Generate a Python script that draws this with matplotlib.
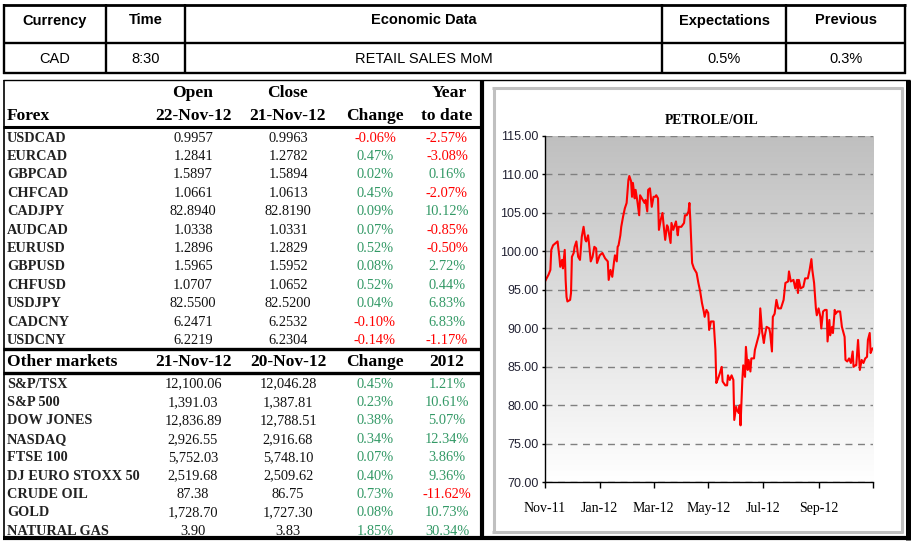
import datetime as dt
import numpy as np
import matplotlib
matplotlib.use("Agg")
import matplotlib.pyplot as plt
import matplotlib.dates as mdates
from matplotlib import font_manager as fm
from matplotlib.colors import LinearSegmentedColormap

# ---- data ----
top_headers = ["Currency", "Time", "Economic Data", "Expectations", "Previous"]
top_values = ["CAD", "8:30", "RETAIL SALES MoM", "0.5%", "0.3%"]

forex_names = ["USDCAD", "EURCAD", "GBPCAD", "CHFCAD", "CADJPY", "AUDCAD",
               "EURUSD", "GBPUSD", "CHFUSD", "USDJPY", "CADCNY", "USDCNY"]
forex_open = ["0.9957", "1.2841", "1.5897", "1.0661", "82.8940", "1.0338",
              "1.2896", "1.5965", "1.0707", "82.5500", "6.2471", "6.2219"]
forex_close = ["0.9963", "1.2782", "1.5894", "1.0613", "82.8190", "1.0331",
               "1.2829", "1.5952", "1.0652", "82.5200", "6.2532", "6.2304"]
forex_change = ["-0.06%", "0.47%", "0.02%", "0.45%", "0.09%", "0.07%",
                "0.52%", "0.08%", "0.52%", "0.04%", "-0.10%", "-0.14%"]
forex_ytd = ["-2.57%", "-3.08%", "0.16%", "-2.07%", "10.12%", "-0.85%",
             "-0.50%", "2.72%", "0.44%", "6.83%", "6.83%", "-1.17%"]

mkt_names = ["S&P/TSX", "S&P 500", "DOW JONES", "NASDAQ", "FTSE 100",
             "DJ EURO STOXX 50", "CRUDE OIL", "GOLD", "NATURAL GAS"]
mkt_last = ["12,100.06", "1,391.03", "12,836.89", "2,926.55", "5,752.03",
            "2,519.68", "87.38", "1,728.70", "3.90"]
mkt_prev = ["12,046.28", "1,387.81", "12,788.51", "2,916.68", "5,748.10",
            "2,509.62", "86.75", "1,727.30", "3.83"]
mkt_change = ["0.45%", "0.23%", "0.38%", "0.34%", "0.07%", "0.40%",
              "0.73%", "0.08%", "1.85%"]
mkt_ytd = ["1.21%", "10.61%", "5.07%", "12.34%", "3.86%", "9.36%",
           "-11.62%", "10.73%", "30.34%"]

# crude oil, days counted from 21-Nov-2011
oil_start = dt.datetime(2011, 11, 21)
oil_days = [0, 4, 6, 7, 9, 12, 14, 16, 17, 19, 20, 22, 23, 24, 25, 28, 29, 30,
            32, 33, 35, 37, 39, 41, 43, 45, 46, 48, 49, 51, 53, 55, 57, 58, 61,
            64, 67, 70, 71, 73, 75, 77, 78, 80, 81, 82, 84, 85, 87, 89, 91, 93,
            94, 96, 97, 98, 100, 101, 103, 105, 106, 109, 111, 112, 114, 115,
            117, 119, 121, 123, 124, 126, 127, 129, 131, 132, 134, 136, 137,
            140, 141, 143, 146, 148, 149, 152, 155, 156, 158, 160, 161, 162,
            164, 166, 169, 171, 173, 175, 177, 178, 180, 182, 183, 185, 188,
            190, 191, 193, 195, 197, 198, 201, 203, 204, 206, 208, 210, 211,
            213, 214, 216, 217, 218, 220, 221, 223, 224, 226, 227, 229, 230,
            233, 234, 237, 239, 240, 242, 244, 245, 247, 250, 251, 253, 254,
            256, 258, 260, 263, 266, 268, 271, 272, 274, 277, 279, 281, 282,
            283, 285, 288, 290, 293, 295, 297, 298, 300, 302, 303, 305, 307,
            308, 310, 312, 314, 315, 317, 318, 320, 321, 323, 324, 326, 329,
            331, 334, 335, 337, 339, 341, 343, 344, 346, 347, 349, 351, 353,
            355, 357, 359, 360, 362, 363, 365, 366]
oil_price = [96.1, 97.0, 97.6, 100.2, 100.8, 101.1, 101.3, 99.3, 98.0, 98.9,
             97.8, 100.2, 96.3, 94.1, 93.5, 93.7, 94.6, 99.3, 99.8, 100.6,
             101.3, 99.3, 98.9, 101.9, 103.2, 101.5, 101.3, 102.1, 101.1, 98.7,
             99.3, 100.6, 100.4, 98.5, 99.5, 99.8, 99.1, 98.7, 96.3, 97.6,
             96.7, 98.7, 99.5, 98.7, 100.6, 100.8, 102.1, 103.2, 104.5, 105.6,
             106.3, 109.3, 109.8, 109.1, 107.1, 108.9, 106.9, 108.0, 106.5,
             104.7, 107.3, 106.7, 106.3, 106.7, 105.2, 108.0, 108.2, 105.8,
             107.1, 107.1, 107.3, 106.9, 102.8, 104.1, 105.0, 103.7, 101.5,
             103.4, 103.2, 101.1, 103.7, 102.8, 103.9, 102.1, 103.2, 103.2,
             103.7, 104.7, 104.7, 105.2, 106.3, 104.1, 98.5, 97.8, 97.2, 95.9,
             94.8, 93.3, 92.2, 91.5, 92.4, 92.0, 89.8, 90.9, 90.9, 87.2, 82.9,
             83.5, 84.2, 85.0, 83.1, 82.6, 82.6, 83.9, 83.3, 83.9, 83.3, 78.1,
             79.8, 79.4, 79.0, 80.0, 77.4, 83.3, 85.2, 83.7, 87.6, 84.6, 85.9,
             84.4, 86.1, 86.1, 87.2, 88.5, 89.4, 92.6, 89.6, 88.1, 89.0, 90.2,
             90.0, 89.4, 87.0, 91.5, 91.9, 93.7, 92.6, 92.6, 93.7, 95.9, 96.1,
             97.4, 96.1, 96.3, 95.2, 96.3, 94.6, 96.3, 95.2, 95.4, 96.5, 96.5,
             97.6, 99.0, 97.6, 95.9, 92.6, 91.7, 92.6, 91.5, 90.0, 92.2, 92.4,
             92.4, 88.3, 91.1, 89.1, 90.2, 89.4, 92.4, 91.9, 92.2, 92.2, 90.2,
             88.9, 85.9, 85.7, 86.1, 85.5, 87.0, 85.0, 85.2, 85.2, 88.5, 84.6,
             85.9, 85.5, 86.1, 86.3, 88.5, 89.4, 86.8, 87.4, 87.4]
y_ticks = [70, 75, 80, 85, 90, 95, 100, 105, 110, 115]
x_tick_labels = ["Nov-11", "Jan-12", "Mar-12", "May-12", "Jul-12", "Sep-12", ""]

# ---- fonts / colours ----
installed = {f.name for f in fm.fontManager.ttflist}
SANS = "Liberation Sans"
NARROW = "Liberation Sans Narrow" if "Liberation Sans Narrow" in installed else None
SERIF = "Liberation Serif"
GREEN = "#339966"
RED = "#ff0000"


def pct_color(s):
    return RED if s.startswith("-") else GREEN


fig = plt.figure(figsize=(9.17, 5.46), dpi=100)
bg = fig.add_axes([0, 0, 1, 1])
bg.set_xlim(0, 917)
bg.set_ylim(546, 0)
bg.axis("off")


def hline(y, x0, x1, lw, color="black"):
    bg.plot([x0, x1], [y, y], color=color, lw=lw, solid_capstyle="butt", zorder=3)


def vline(x, y0, y1, lw, color="black"):
    bg.plot([x, x], [y0, y1], color=color, lw=lw, solid_capstyle="butt", zorder=3)


# ---- top table ----
edges = [4, 106, 185, 662, 786, 905]
hline(5, 3, 906, 2.0)
hline(42.7, 3, 906, 1.7)
hline(72.8, 3, 906, 1.7)
for x in edges:
    vline(x, 4, 74, 1.7)
for i in range(5):
    cx = (edges[i] + edges[i + 1]) / 2
    bg.text(cx, 20.5, top_headers[i], ha="center", va="center",
            family=SANS, fontweight="bold", fontsize=10.5)
    bg.text(cx, 59, top_values[i], ha="center", va="center",
            family=SANS, fontsize=10.5)

# ---- left table ----
col_x = [193, 288, 375, 447]
hline(80, 3, 910, 1.0)
vline(4, 80, 540, 1.2)
hline(127.2, 3, 482, 2.2)
hline(349, 3, 482, 2.4)
hline(373, 3, 482, 2.4)
hline(538, 3, 910, 3.0)
vline(482, 80, 540, 3.0)
vline(907.5, 80, 540, 3.6)

hdr = dict(family=SERIF, fontweight="bold", fontsize=12.6, va="center")
bg.text(7, 115.5, "Forex", ha="left", **hdr)
bg.text(col_x[0], 93, "Open", ha="center", **hdr)
bg.text(col_x[1], 93, "Close", ha="center", **hdr)
bg.text(449, 93, "Year", ha="center", **hdr)
bg.text(col_x[0], 115.5, "22-Nov-12", ha="center", **hdr)
bg.text(col_x[1], 115.5, "21-Nov-12", ha="center", **hdr)
bg.text(col_x[2], 115.5, "Change", ha="center", **hdr)
bg.text(col_x[3], 115.5, "to date", ha="center", **hdr)

bg.text(7, 362, "Other markets", ha="left", **hdr)
bg.text(col_x[0], 362, "21-Nov-12", ha="center", **hdr)
bg.text(col_x[1], 362, "20-Nov-12", ha="center", **hdr)
bg.text(col_x[2], 362, "Change", ha="center", **hdr)
bg.text(col_x[3], 362, "2012", ha="center", **hdr)


def draw_rows(y0, names, a, b, chg, ytd):
    for i, name in enumerate(names):
        y = y0 + i * 18.4
        bg.text(7, y, name, ha="left", va="center", family=SERIF,
                fontweight="bold", fontsize=10.3, color="#222222")
        bg.text(col_x[0], y, a[i], ha="center", va="center", family=SERIF,
                fontsize=10.4, color="#111111")
        bg.text(col_x[1], y, b[i], ha="center", va="center", family=SERIF,
                fontsize=10.4, color="#111111")
        bg.text(col_x[2], y, chg[i], ha="center", va="center", family=SERIF,
                fontsize=10.4, color=pct_color(chg[i]))
        bg.text(col_x[3], y, ytd[i], ha="center", va="center", family=SERIF,
                fontsize=10.4, color=pct_color(ytd[i]))


draw_rows(138, forex_names, forex_open, forex_close, forex_change, forex_ytd)
draw_rows(384, mkt_names, mkt_last, mkt_prev, mkt_change, mkt_ytd)

# ---- chart frame ----
gray = "#c0c0c0"
hline(87.5, 492, 903, 2.2, gray)
hline(531.5, 492, 903, 2.2, gray)
vline(493.5, 86.5, 532.5, 2.2, gray)
vline(901.5, 86.5, 532.5, 2.2, gray)
bg.text(712, 120, "PETROLE/OIL", ha="center", va="center", family=SERIF,
        fontweight="bold", fontsize=9.8)

# ---- oil chart ----
ax = fig.add_axes([545 / 917, (546 - 482.3) / 546, 328.3 / 917, 346.3 / 546])
dates = [oil_start + dt.timedelta(days=d) for d in oil_days]
x0 = mdates.date2num(oil_start)
x1 = mdates.date2num(oil_start + dt.timedelta(days=366))
grad = LinearSegmentedColormap.from_list("g", ["#bfbfbf", "#ffffff"])
ax.imshow(np.linspace(0, 1, 256).reshape(-1, 1), cmap=grad, aspect="auto",
          extent=[x0, x1, 70, 115], origin="upper", zorder=0)
ax.plot(dates, oil_price, color="#ff0000", lw=1.5, zorder=3)
ax.set_xlim(x0, x1)
ax.set_ylim(70, 115)
ax.set_yticks(y_ticks)
if NARROW:
    ax.set_yticklabels([f"{v:.2f}" for v in y_ticks], family=NARROW,
                       fontsize=10.5, color="#222233")
else:
    ax.set_yticklabels([f"{v:.2f}" for v in y_ticks], family=SANS,
                       fontsize=9, color="#222233")
ax.yaxis.grid(True, linestyle=(0, (5, 4)), color="#808080", lw=1.0, zorder=1)
ax.set_axisbelow(False)
tick_dates = [mdates.date2num(dt.datetime(2011 + (10 + 2 * k) // 12,
                                          (10 + 2 * k) % 12 + 1, 21))
              for k in range(len(x_tick_labels))]
ax.set_xticks(tick_dates)
ax.set_xticklabels(x_tick_labels, family=SERIF, fontsize=10)
ax.tick_params(axis="x", direction="out", length=4.3, width=1, pad=10)
ax.tick_params(axis="y", direction="out", length=2.2, width=1, pad=2.5)
for s in ["top", "right"]:
    ax.spines[s].set_visible(False)
for s in ["left", "bottom"]:
    ax.spines[s].set_linewidth(1.0)
    ax.spines[s].set_zorder(4)

fig.savefig("out.png", dpi=100)
